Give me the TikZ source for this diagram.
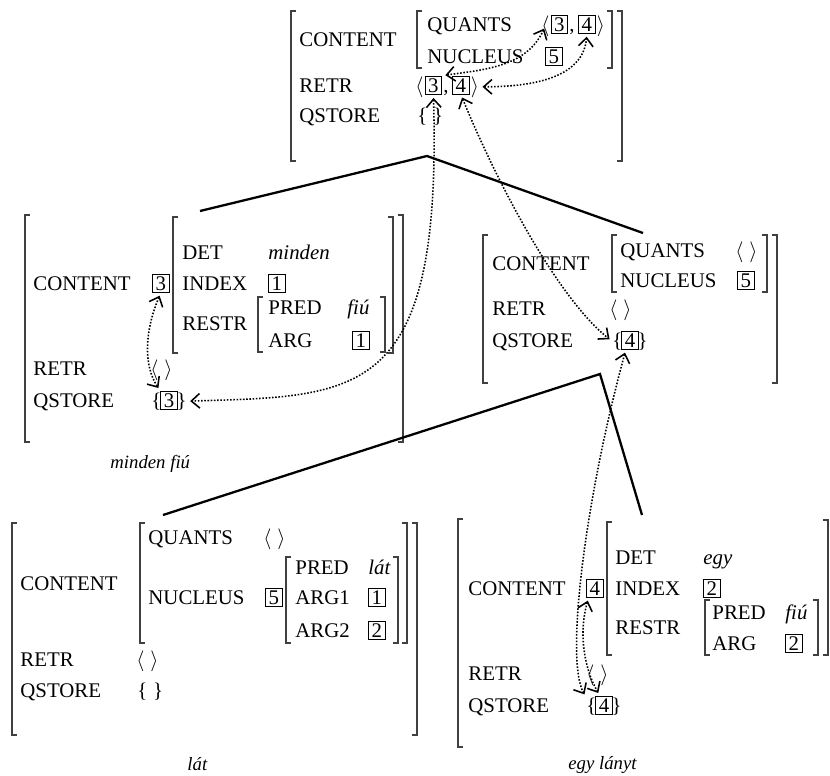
\documentclass[tikz,border=0pt]{standalone}
\usepackage{fontspec}
\setmainfont{Liberation Serif}
\usetikzlibrary{arrows.meta, positioning}

% square brackets of the feature structures: x, top, bottom
\newcommand{\lbrk}[3]{\draw[brk] (#1+5,#2) -- (#1,#2) -- (#1,#3) -- (#1+5,#3);}
\newcommand{\rbrk}[3]{\draw[brk] (#1-5,#2) -- (#1,#2) -- (#1,#3) -- (#1-5,#3);}

\begin{document}
\begin{tikzpicture}[
    x=0.48pt, y=-0.48pt,
    feat/.style={anchor=base west, inner sep=0pt},
    val/.style={feat, font=\itshape},
    tag/.style={draw, line width=0.5pt, anchor=base west, inner xsep=1.5pt, inner ysep=1pt},
    lbl/.style={anchor=base west, inner sep=0pt, font=\small\itshape},
    brk/.style={line width=0.5pt, black!75},
    branch/.style={line width=1.1pt},
    link/.style={line width=0.75pt, dash pattern=on 0.75pt off 0.8pt,
                 shorten <=1.5pt, shorten >=1.5pt,
                 {Straight Barb[length=4pt,width=7pt]}-{Straight Barb[length=4pt,width=7pt]}}
]
\useasboundingbox (0,0) rectangle (830,775);

% sentence
\lbrk{291}{11}{161} \rbrk{622}{11}{161}
\lbrk{417}{11}{68}  \rbrk{612}{11}{68}
\node[feat] (scont) at (299,46) {CONTENT};
\node[feat] (squants) at (427,31) {QUANTS};
\node[feat] (sql) at (541,31) {$\langle$};
\node[tag, base right=0.3pt of sql] (sq3) {3};
\node[feat, base right=0.3pt of sq3] (sqc) {,};
\node[tag, base right=1.5pt of sqc] (sq4) {4};
\node[feat, base right=0.3pt of sq4] (sqr) {$\rangle$};
\node[feat] (snuc) at (427,63) {NUCLEUS};
\node[tag] (sn5) at (545,63) {5};
\node[feat] (sretr) at (299,92) {RETR};
\node[feat] (srl) at (415,92) {$\langle$};
\node[tag, base right=0.3pt of srl] (sr3) {3};
\node[feat, base right=0.3pt of sr3] (src) {,};
\node[tag, base right=1.5pt of src] (sr4) {4};
\node[feat, base right=0.3pt of sr4] (srr) {$\rangle$};
\node[feat] (sqst) at (299,122) {QSTORE};
\node[feat] (sst) at (417,122) {\{\;\}};

% minden fiu
\lbrk{25}{215}{442}  \rbrk{403}{215}{442}
\lbrk{173}{217}{353} \rbrk{393}{217}{353}
\lbrk{258}{297}{352} \rbrk{385}{297}{352}
\node[feat] (mcont) at (33,290) {CONTENT};
\node[tag] (mc3) at (152,290) {3};
\node[feat] (mdet) at (182,259) {DET};
\node[val] (mmin) at (268,259) {minden};
\node[feat] (mind) at (182,290) {INDEX};
\node[tag] (mi1) at (268,290) {1};
\node[feat] (mrestr) at (182,330) {RESTR};
\node[feat] (mpred) at (268,314) {PRED};
\node[val] (mfiu) at (347,314) {fiú};
\node[feat] (marg) at (268,347) {ARG};
\node[tag] (ma1) at (352,347) {1};
\node[feat] (mretr) at (33,375) {RETR};
\node[feat] (mrl) at (150,375) {$\langle\;\rangle$};
\node[feat] (mqst) at (33,407) {QSTORE};
\node[feat] (mql) at (151,407) {\{};
\node[tag, base right=-0.8pt of mql] (mq3) {3};
\node[feat, base right=-0.8pt of mq3] (mqr) {\}};
\node[lbl] (mlbl) at (110,468) {minden fiú};

% verb phrase
\lbrk{483}{235}{383} \rbrk{777}{235}{383}
\lbrk{612}{235}{292} \rbrk{767}{235}{292}
\node[feat] (pcont) at (492,270) {CONTENT};
\node[feat] (pquants) at (620,257) {QUANTS};
\node[feat] (pql) at (735,257) {$\langle\;\rangle$};
\node[feat] (pnuc) at (620,287) {NUCLEUS};
\node[tag] (pn5) at (737,287) {5};
\node[feat] (pretr) at (492,315) {RETR};
\node[feat] (prl) at (609,315) {$\langle\;\rangle$};
\node[feat] (pqst) at (492,347) {QSTORE};
\node[feat] (psl) at (612,347) {\{};
\node[tag, base right=-0.8pt of psl] (ps4) {4};
\node[feat, base right=-0.8pt of ps4] (psr) {\}};

% lat
\lbrk{12}{523}{735}  \rbrk{417}{523}{735}
\lbrk{140}{523}{643} \rbrk{407}{523}{643}
\lbrk{286}{557}{643} \rbrk{398}{557}{643}
\node[feat] (vcont) at (20,590) {CONTENT};
\node[feat] (vquants) at (148,544) {QUANTS};
\node[feat] (vql) at (263,544) {$\langle\;\rangle$};
\node[feat] (vnuc) at (148,604) {NUCLEUS};
\node[tag] (vn5) at (265,604) {5};
\node[feat] (vpred) at (295,574) {PRED};
\node[val] (vlat) at (368,574) {lát};
\node[feat] (varg1) at (295,604) {ARG1};
\node[tag] (va1) at (368,604) {1};
\node[feat] (varg2) at (295,637) {ARG2};
\node[tag] (va2) at (368,637) {2};
\node[feat] (vretr) at (20,666) {RETR};
\node[feat] (vrl) at (136,666) {$\langle\;\rangle$};
\node[feat] (vqst) at (20,697) {QSTORE};
\node[feat] (vst) at (137,697) {\{\;\}};
\node[lbl] (vlbl) at (187,770) {lát};

% egy lanyt
\lbrk{458}{519}{747}
\lbrk{607}{522}{655} \rbrk{828}{520}{655}
\lbrk{705}{600}{655} \rbrk{818}{600}{655}
\node[feat] (econt) at (468,595) {CONTENT};
\node[tag] (ec4) at (586,595) {4};
\node[feat] (edet) at (615,564) {DET};
\node[val] (eegy) at (703,564) {egy};
\node[feat] (eind) at (615,595) {INDEX};
\node[tag] (ei2) at (703,595) {2};
\node[feat] (erestr) at (615,634) {RESTR};
\node[feat] (epred) at (712,619) {PRED};
\node[val] (efiu) at (785,619) {fiú};
\node[feat] (earg) at (712,650) {ARG};
\node[tag] (ea2) at (785,650) {2};
\node[feat] (eretr) at (468,680) {RETR};
\node[feat] (erl) at (586,680) {$\langle\;\rangle$};
\node[feat] (eqst) at (468,712) {QSTORE};
\node[feat] (esl) at (586,712) {\{};
\node[tag, base right=-0.8pt of esl] (es4) {4};
\node[feat, base right=-0.8pt of es4] (esr) {\}};
\node[lbl] (elbl) at (568,769) {egy lányt};

% tree
\coordinate (sroot) at (427,156);
\coordinate (mroot) at (200,211);
\coordinate (proot) at (643,233);
\coordinate (pfork) at (600,374);
\coordinate (vroot) at (163,515);
\coordinate (eroot) at (642,515);
\draw[branch] (mroot) -- (sroot) -- (proot);
\draw[branch] (vroot) -- (pfork) -- (eroot);

% structure sharing
\draw[link] (sr3.north east) to[out=8, in=-115] (sql.center);
\draw[link] (srr.east) to[out=0, in=-95] (sq4.south);
\draw[link] (sr3.south) .. controls (442,400) and (360,396) .. (mqr.east);
\draw[link] (sr4.south) .. controls (500,190) and (560,300) .. (psl.west);
\draw[link] ([xshift=-2pt]ps4.south) .. controls (585,500) and (565,660) .. (esl.north west);
\draw[link] ([xshift=-3pt]ec4.south) .. controls (578,635) and (585,670) .. ([xshift=-2pt]es4.north);
\draw[link] (mc3.south) .. controls (145,330) and (143,365) .. (mq3.north west);
\end{tikzpicture}
\end{document}
